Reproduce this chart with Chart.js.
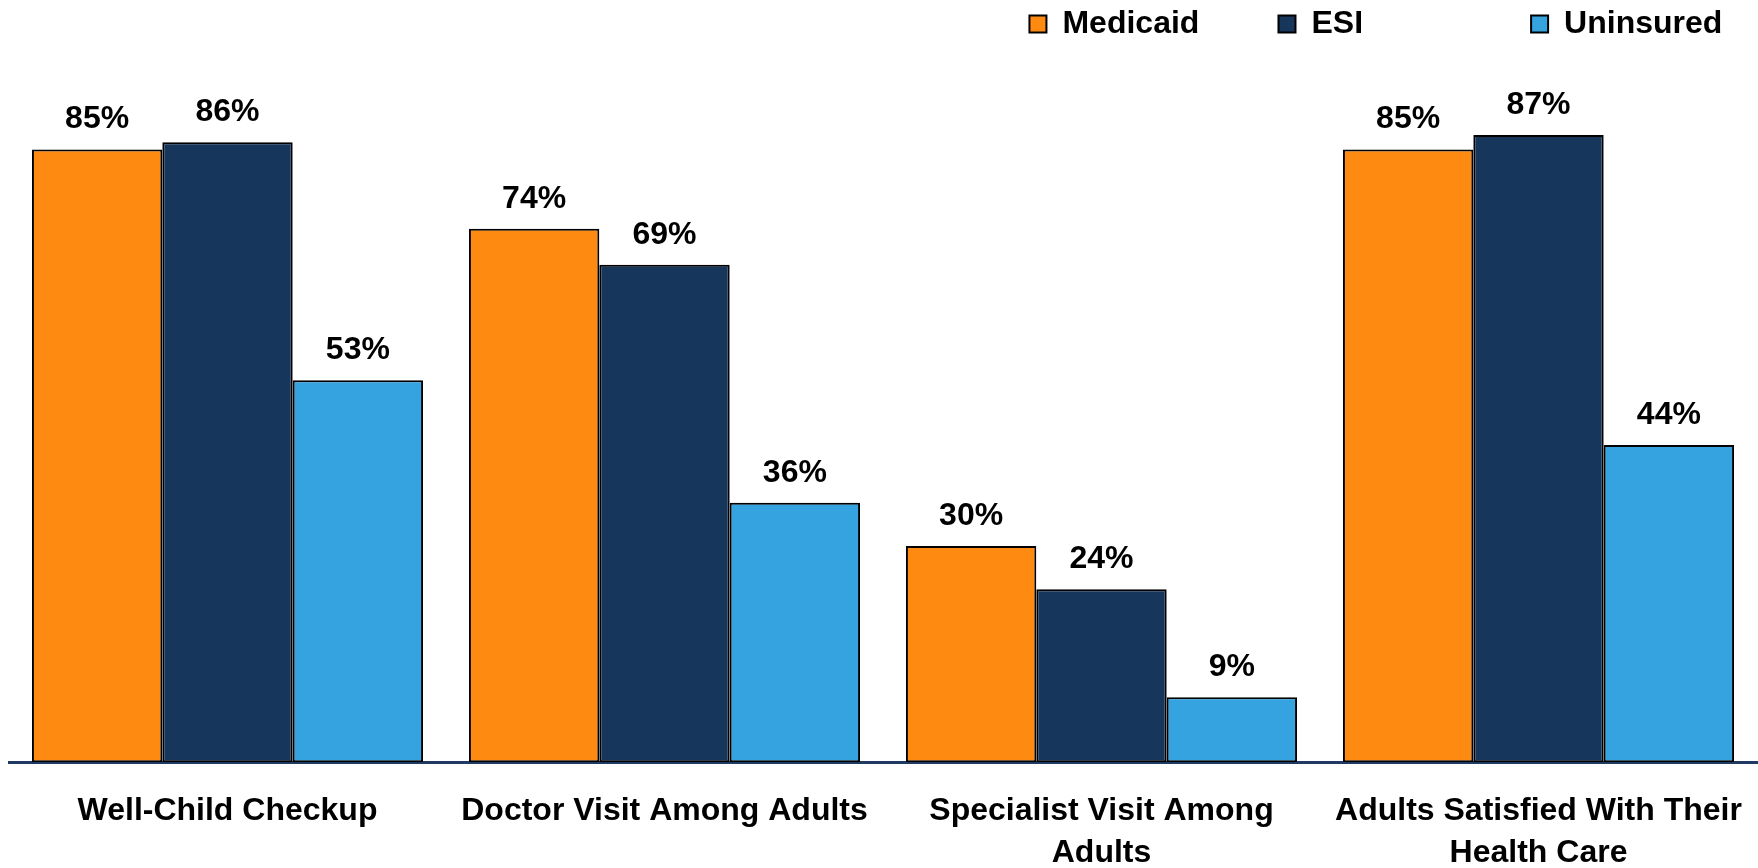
<!DOCTYPE html>
<html>
<head>
<meta charset="utf-8">
<script src="https://cdn.jsdelivr.net/npm/chart.js@4.4.1/dist/chart.umd.min.js"></script>
<style>
  html, body { margin: 0; padding: 0; background: #ffffff; overflow: hidden; }
  #wrap { width: 1758px; height: 868px; position: relative; }
  canvas { display: block; }
</style>
</head>
<body>
<div id="wrap"><canvas id="c"></canvas></div>
<script>
const categories = [
  "Well-Child Checkup",
  "Doctor Visit Among Adults",
  ["Specialist Visit Among", "Adults"],
  ["Adults Satisfied With Their", "Health Care"]
];
const seriesNames = ["Medicaid", "ESI", "Uninsured"];
const medicaidValues = [85, 74, 30, 85];
const esiValues = [86, 69, 24, 87];
const uninsuredValues = [53, 36, 9, 44];
const seriesColors = ["#FF8A12", "#16365C", "#34A3E0"];
const legendPad = ["        ", "                  ", "   "];

const FONT = "'Liberation Sans', Arial, sans-serif";

const valueLabels = {
  id: 'valueLabels',
  afterDatasetsDraw(chart) {
    const ctx = chart.ctx;
    ctx.save();
    ctx.font = "bold 32px " + FONT;
    ctx.fillStyle = "#000000";
    ctx.textAlign = "center";
    ctx.textBaseline = "alphabetic";
    chart.data.datasets.forEach((ds, i) => {
      const meta = chart.getDatasetMeta(i);
      meta.data.forEach((bar, j) => {
        ctx.fillText(ds.data[j] + "%", bar.x, bar.y - 21);
      });
    });
    ctx.restore();
  }
};

const values = [medicaidValues, esiValues, uninsuredValues];

new Chart(document.getElementById('c'), {
  type: 'bar',
  data: {
    labels: categories,
    datasets: seriesNames.map((name, i) => ({
      label: name,
      data: values[i],
      backgroundColor: seriesColors[i],
      borderColor: "#000000",
      borderWidth: 2,
      borderSkipped: false,
      categoryPercentage: 0.895,
      barPercentage: 1.0
    }))
  },
  options: {
    responsive: true,
    maintainAspectRatio: false,
    animation: false,
    layout: { padding: { left: 9, right: 1, top: 0, bottom: -9 } },
    plugins: {
      tooltip: { enabled: false },
      legend: {
        position: 'top',
        align: 'end',
        labels: {
          font: { family: FONT, size: 32, weight: 'bold' },
          color: "#000000",
          boxWidth: 17,
          boxHeight: 17,
          padding: 8,
          generateLabels(chart) {
            return chart.data.datasets.map((ds, i) => ({
              text: ds.label + legendPad[i],
              fillStyle: ds.backgroundColor,
              strokeStyle: "#000000",
              lineWidth: 2,
              hidden: false,
              datasetIndex: i
            }));
          }
        }
      }
    },
    scales: {
      x: {
        grid: { display: false, drawTicks: true, tickLength: 25 },
        border: { display: true, color: "#1F3B63", width: 3 },
        ticks: {
          color: "#000000",
          font: { family: FONT, size: 32, weight: 'bold', lineHeight: 1.34 },
          padding: 2,
          maxRotation: 0,
          autoSkip: false
        }
      },
      y: {
        display: false,
        min: 0,
        max: 98.8
      }
    }
  },
  plugins: [valueLabels]
});
</script>
</body>
</html>
